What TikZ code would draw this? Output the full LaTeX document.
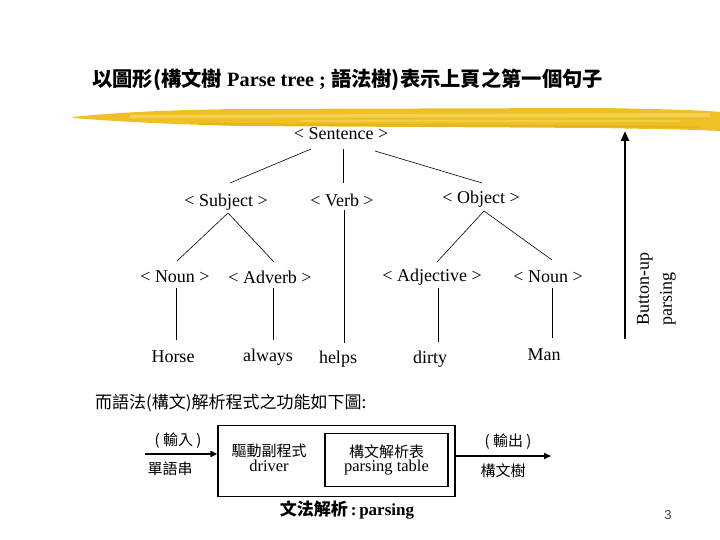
\documentclass[tikz,border=0pt]{standalone}
\usepackage{fontspec}
\setmainfont{Liberation Serif}
\newfontfamily\cjk{Noto Sans CJK TC}
\newfontfamily\numfont{Liberation Sans}
\usetikzlibrary{calc,arrows.meta}
\definecolor{brush}{RGB}{238,192,38}
\definecolor{brushlight}{RGB}{247,218,100}
\definecolor{brushdark}{RGB}{228,172,20}
\tikzset{
  lab/.style={font=\fontsize{18}{20}\selectfont, inner sep=1pt},
  edge/.style={draw=black, line width=0.6pt},
  boxtxt/.style={align=center, inner sep=0pt},
  flow/.style={line width=2pt, -{Triangle[width=6pt,length=7pt]}},
}
\begin{document}
\begin{tikzpicture}[x=1pt,y=-1pt]
\useasboundingbox (0,0) rectangle (720,540);
% brush stroke
\fill[brush] (73,117) .. controls (110,113) and (160,110) .. (240,109)
  -- (600,108) .. controls (660,109) and (700,110) .. (720,112)
  -- (720,131) .. controls (680,129) and (640,129) .. (600,128)
  -- (240,126) .. controls (160,124) and (110,121) .. (73,118) -- cycle;
\fill[brushlight,opacity=0.7] (130,115) -- (710,113) -- (710,117) -- (130,118) -- cycle;
\fill[brushlight,opacity=0.5] (300,120) -- (680,120) -- (680,122) -- (300,122) -- cycle;
\fill[brushdark,opacity=0.6] (200,123) -- (700,126) -- (700,128) -- (200,125) -- cycle;
% title
\node[anchor=west, inner sep=0pt] (title) at (92,80)
  {\fontsize{20.3}{22}\selectfont\bfseries{\cjk 以圖形(構文樹}\ Parse tree ;\ {\cjk 語法樹)表示上頁之第一個句子}};
% tree nodes
\node[lab] (sen) at (341,134) {< Sentence >};
\node[lab] (sub) at (226,202) {< Subject >};
\node[lab] (verb) at (342,200) {< Verb >};
\node[lab] (obj) at (481,199) {< Object >};
\node[lab] (noun1) at (175,277) {< Noun >};
\node[lab] (adv) at (270,277) {< Adverb >};
\node[lab] (adj) at (432,277) {< Adjective >};
\node[lab] (noun2) at (548,277) {< Noun >};
\node[lab] (horse) at (173,357) {Horse};
\node[lab] (always) at (268,357) {always};
\node[lab] (helps) at (338,359) {helps};
\node[lab] (dirty) at (430,359) {dirty};
\node[lab] (man) at (544,355) {Man};
% tree edges
\draw[edge] ($(sen)+(-30,15)$) -- ($(sub)+(4,-19)$);
\draw[edge] ($(sen)+(2,15)$) -- ($(verb)+(1,-17)$);
\draw[edge] ($(sen)+(34,17)$) -- ($(obj)+(1,-16)$);
\draw[edge] ($(sub)+(2,11)$) -- ($(noun1)+(2,-16)$);
\draw[edge] ($(sub)+(2,11)$) -- ($(adv)+(4,-15)$);
\draw[edge] ($(verb)+(2,10)$) -- ($(helps)+(6,-16)$);
\draw[edge] ($(obj)+(3,12)$) -- ($(adj)+(5,-15)$);
\draw[edge] ($(obj)+(3,12)$) -- ($(noun2)+(4,-17)$);
\draw[edge] ($(noun1)+(1,11)$) -- ($(horse)+(3,-17)$);
\draw[edge] ($(adv)+(3,11)$) -- ($(always)+(5,-17)$);
\draw[edge] ($(adj)+(6,11)$) -- ($(dirty)+(8,-17)$);
\draw[edge] ($(noun2)+(4,11)$) -- ($(man)+(8,-17)$);
% bottom-up arrow
\coordinate (upbot) at (625,339);
\coordinate (uptop) at (625,131);
\draw[line width=2.6pt, -{Triangle[width=8pt,length=10pt]}] (upbot) -- (uptop);
\node[rotate=90, anchor=north west, align=left, inner sep=0pt,
  font=\fontsize{18}{23}\selectfont] (bup) at (637,326) {Button-up\\parsing};
% bottom text
\node[anchor=west, inner sep=0pt, font=\cjk\fontsize{17}{19}\selectfont] (intro) at (95,403)
  {而語法(構文)解析程式之功能如下圖:};
\node[draw, line width=1.2pt, minimum width=237pt, minimum height=71pt, inner sep=0pt] (outer) at (336.5,461) {};
\node[draw, line width=1.2pt, minimum width=123pt, minimum height=53pt, boxtxt] (inner) at (386.5,460)
  {{\cjk\fontsize{15}{17}\selectfont 構文解析表}\\[1pt]{\fontsize{16.5}{18}\selectfont parsing table}};
\node[boxtxt] (drv) at (269,458)
  {{\cjk\fontsize{15}{17}\selectfont 驅動副程式}\\[1pt]{\fontsize{16.5}{18}\selectfont driver}};
\coordinate (instart) at (145,454);
\coordinate (outend) at (551,456);
\draw[flow] (instart) -- ([yshift=7pt]outer.west);
\draw[flow] ([yshift=5pt]outer.east) -- (outend);
\node[inner sep=0pt, font=\cjk\fontsize{15}{17}\selectfont] (inlab) at (178,441) {( 輸入 )};
\node[inner sep=0pt, font=\cjk\fontsize{15}{17}\selectfont] (instr) at (170,469) {單語串};
\node[inner sep=0pt, font=\cjk\fontsize{15}{17}\selectfont] (outlab) at (508,442) {( 輸出 )};
\node[inner sep=0pt, font=\cjk\fontsize{15}{17}\selectfont] (outtree) at (503,471) {構文樹};
\node[inner sep=0pt] (cap) at (347,510)
  {\fontsize{17}{19}\selectfont\bfseries{\cjk 文法解析}\,:\,parsing};
\node[inner sep=0pt, text=black!75, font=\numfont\fontsize{13}{13}\selectfont] (pg) at (668,515) {3};
\end{tikzpicture}
\end{document}
